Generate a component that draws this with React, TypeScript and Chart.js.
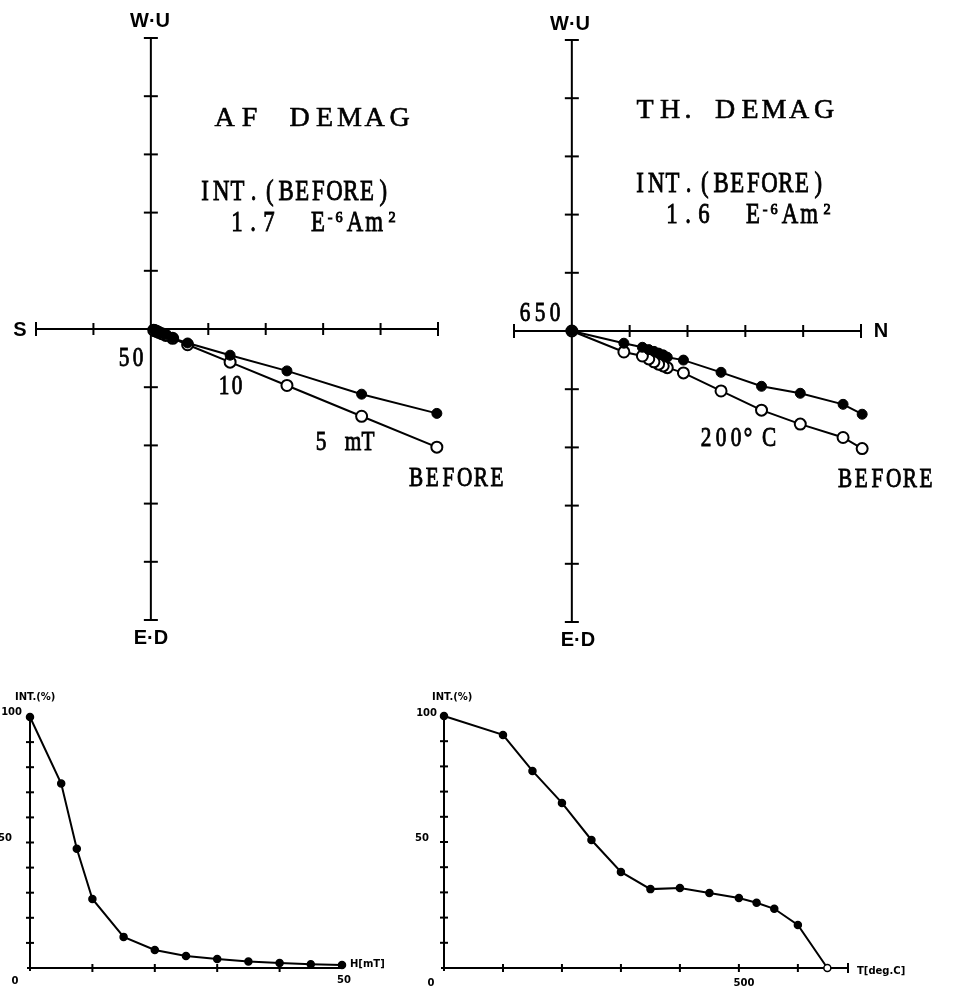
import React, { useEffect, useRef } from "react";
import { Chart, registerables } from "chart.js";

Chart.register(...registerables);

// ---------- AF demagnetization ----------
const afSteps = [0, 5, 7.5, 10, 15, 20, 25, 30, 35, 40, 45, 50]; // mT
const afNorth = [4.98, 3.67, 2.37, 1.38, 0.64, 0.38, 0.26, 0.19, 0.14, 0.1, 0.07, 0.05];
const afHorizUp = [-1.45, -1.12, -0.72, -0.45, -0.24, -0.16, -0.1, -0.07, -0.05, -0.04, -0.02, -0.01];
const afVertUp = [-2.03, -1.5, -0.97, -0.57, -0.27, -0.16, -0.11, -0.08, -0.06, -0.04, -0.03, -0.02];
const afIntensity = [100, 73.5, 47.5, 27.5, 12.4, 7.2, 4.8, 3.6, 2.6, 2.0, 1.5, 1.2];

// ---------- Thermal demagnetization ----------
const thSteps = [0, 100, 150, 200, 250, 300, 350, 400, 450, 500, 530, 560, 600, 650]; // deg C
const thNorth = [5.02, 4.69, 3.95, 3.28, 2.58, 1.93, 1.65, 1.58, 1.5, 1.42, 1.33, 1.22, 0.9, 0];
const thHorizUp = [-1.43, -1.26, -1.07, -0.95, -0.71, -0.5, -0.45, -0.41, -0.38, -0.35, -0.32, -0.28, -0.21, 0];
const thVertUp = [-2.02, -1.83, -1.6, -1.36, -1.03, -0.72, -0.63, -0.6, -0.57, -0.53, -0.48, -0.43, -0.36, 0];
const thIntensity = [100, 92.5, 78.2, 65.5, 50.8, 38.1, 31.3, 31.7, 29.8, 27.8, 25.9, 23.5, 17.1, 0];

// ---------- axes / ticks ----------
const zijTicks = [-4, -3, -2, -1, 1, 2, 3, 4];
const intYTicks = [10, 20, 30, 40, 50, 60, 70, 80, 90];
const afXTicks = [10, 20, 30, 40];
const thXTicks = [100, 200, 300, 400, 500, 600];
const thAxisMax = 685;

type Label = {
  text: string;
  kind: "title" | "int" | "serif" | "sans" | "small";
  x?: number;
  y: number;
  pitch?: number;
  centers?: number[];
  align?: CanvasTextAlign;
};

const SERIF = "'Liberation Serif', 'DejaVu Serif', serif";
const SANS = "'Liberation Sans', 'DejaVu Sans', sans-serif";
const SUP: Record<string, string> = { "⁻": "-", "⁶": "6", "²": "2" };

function drawLabels(ctx: CanvasRenderingContext2D, labels: Label[], ox: number, oy: number) {
  ctx.save();
  ctx.fillStyle = "#000";
  ctx.strokeStyle = "#000";
  for (const lb of labels) {
    const y = lb.y - oy;
    if (lb.kind === "sans" || lb.kind === "small") {
      ctx.font = lb.kind === "sans" ? `bold 20px ${SANS}` : `bold 10px 'DejaVu Sans', sans-serif`;
      ctx.textAlign = lb.align || "center";
      ctx.textBaseline = "middle";
      ctx.fillText(lb.text, (lb.x as number) - ox, y);
      continue;
    }
    const size = lb.kind === "title" ? 28 : lb.kind === "int" ? 30 : 28;
    const sx = lb.kind === "title" ? 1 : 0.76;
    for (let i = 0; i < lb.text.length; i++) {
      const ch = lb.text[i];
      if (ch === " ") continue;
      const cx = (lb.centers ? lb.centers[i] : (lb.x as number) + i * (lb.pitch as number)) - ox;
      let c = ch;
      let s = size;
      let yy = y + size * 0.33;
      let scx = sx;
      if (SUP[ch]) {
        c = SUP[ch];
        s = size * 0.5;
        yy = y + size * 0.04;
        scx = 0.95;
      }
      ctx.font = `${s}px ${SERIF}`;
      ctx.textAlign = "center";
      ctx.textBaseline = "alphabetic";
      ctx.lineWidth = lb.kind === "title" ? 0.6 : 0.9;
      ctx.save();
      ctx.translate(cx, yy);
      ctx.scale(scx, 1);
      ctx.fillText(c, 0, 0);
      ctx.strokeText(c, 0, 0);
      ctx.restore();
    }
  }
  ctx.restore();
}

function seg(ctx: CanvasRenderingContext2D, x1: number, y1: number, x2: number, y2: number) {
  ctx.beginPath();
  ctx.moveTo(x1, y1);
  ctx.lineTo(x2, y2);
  ctx.stroke();
}

const zijAxesPlugin = {
  id: "zijAxes",
  beforeDatasetsDraw(chart: any) {
    const { ctx } = chart;
    const x = chart.scales.x;
    const y = chart.scales.y;
    const x0 = x.getPixelForValue(0);
    const y0 = y.getPixelForValue(0);
    const xl = x.getPixelForValue(x.min);
    const xr = x.getPixelForValue(x.max);
    const yt = y.getPixelForValue(y.max);
    const yb = y.getPixelForValue(y.min);
    ctx.save();
    ctx.strokeStyle = "#000";
    ctx.lineWidth = 2;
    seg(ctx, xl, y0, xr, y0);
    seg(ctx, x0, yt, x0, yb);
    seg(ctx, xl, y0 - 7, xl, y0 + 7);
    seg(ctx, xr, y0 - 7, xr, y0 + 7);
    seg(ctx, x0 - 7, yt, x0 + 7, yt);
    seg(ctx, x0 - 7, yb, x0 + 7, yb);
    for (const v of zijTicks) {
      if (v > x.min && v < x.max) {
        const px = x.getPixelForValue(v);
        seg(ctx, px, y0 - 6, px, y0 + 6);
      }
      if (v > y.min && v < y.max) {
        const py = y.getPixelForValue(v);
        seg(ctx, x0 - 7, py, x0 + 7, py);
      }
    }
    ctx.restore();
  },
};

function makeIntAxesPlugin(xTicks: number[], endCap: boolean) {
  return {
    id: "intAxes",
    beforeDatasetsDraw(chart: any) {
      const { ctx } = chart;
      const x = chart.scales.x;
      const y = chart.scales.y;
      const x0 = x.getPixelForValue(0);
      const y0 = y.getPixelForValue(0);
      const xr = x.getPixelForValue(x.max);
      const yt = y.getPixelForValue(100);
      ctx.save();
      ctx.strokeStyle = "#000";
      ctx.lineWidth = 2;
      seg(ctx, x0 - 3, y0, xr, y0);
      seg(ctx, x0, y0 + 3, x0, yt);
      if (endCap) seg(ctx, xr, y0 - 5, xr, y0 + 5);
      for (const v of intYTicks) {
        const py = y.getPixelForValue(v);
        seg(ctx, x0 - 4, py, x0 + 4, py);
      }
      for (const v of xTicks) {
        const px = x.getPixelForValue(v);
        seg(ctx, px, y0 - 4, px, y0 + 4);
      }
      ctx.restore();
    },
  };
}

function makeLabelPlugin(labels: Label[], ox: number, oy: number) {
  return {
    id: "labels",
    afterDraw(chart: any) {
      drawLabels(chart.ctx, labels, ox, oy);
    },
  };
}

function pts(xs: number[], ys: number[]) {
  return xs.map((v, i) => ({ x: v, y: ys[i] }));
}

function baseOptions(pad: any, xr: [number, number], yr: [number, number]) {
  return {
    responsive: false,
    animation: false,
    devicePixelRatio: 1,
    events: [],
    layout: { padding: pad },
    scales: {
      x: { type: "linear", min: xr[0], max: xr[1], display: false },
      y: { type: "linear", min: yr[0], max: yr[1], display: false },
    },
    plugins: { legend: { display: false }, tooltip: { enabled: false } },
  };
}

function zijConfig(north: number[], hUp: number[], vUp: number[], pad: any, xr: [number, number], labels: Label[], ox: number, oy: number) {
  return {
    type: "scatter",
    data: {
      datasets: [
        {
          data: pts(north, hUp),
          showLine: true,
          borderColor: "#000",
          borderWidth: 2,
          pointRadius: 5,
          pointBackgroundColor: "#000",
          pointBorderColor: "#000",
          pointBorderWidth: 1,
          clip: false,
        },
        {
          data: pts(north, vUp),
          showLine: true,
          borderColor: "#000",
          borderWidth: 2,
          pointRadius: 5.5,
          pointBackgroundColor: "#fff",
          pointBorderColor: "#000",
          pointBorderWidth: 2,
          clip: false,
        },
      ],
    },
    options: baseOptions(pad, xr, [-5, 5]),
    plugins: [zijAxesPlugin, makeLabelPlugin(labels, ox, oy)],
  };
}

function intConfig(xs: number[], ys: number[], pad: any, xMax: number, xTicks: number[], endCap: boolean, openLast: boolean, labels: Label[], ox: number, oy: number) {
  const bg = ys.map((_, i) => (openLast && i === ys.length - 1 ? "#fff" : "#000"));
  return {
    type: "scatter",
    data: {
      datasets: [
        {
          data: pts(xs, ys),
          showLine: true,
          borderColor: "#000",
          borderWidth: 2,
          pointRadius: 3.5,
          pointBackgroundColor: bg,
          pointBorderColor: "#000",
          pointBorderWidth: 1.5,
          clip: false,
        },
      ],
    },
    options: baseOptions(pad, [0, xMax], [0, 100]),
    plugins: [makeIntAxesPlugin(xTicks, endCap), makeLabelPlugin(labels, ox, oy)],
  };
}

const afLabels: Label[] = [
  { text: "W·U", kind: "sans", x: 150, y: 21 },
  { text: "E·D", kind: "sans", x: 151, y: 638 },
  { text: "S", kind: "sans", x: 20, y: 330 },
  { text: "AF DEMAG", kind: "title", x: 224.5, pitch: 25, y: 117 },
  { text: "INT.(BEFORE)", kind: "int", x: 205, pitch: 16.2, y: 190 },
  { text: "1.7  E⁻⁶Am²", kind: "int", centers: [237, 253, 269, 0, 0, 318, 330, 339, 355, 374, 392], y: 221 },
  { text: "50", kind: "serif", centers: [124, 138], y: 357 },
  { text: "10", kind: "serif", centers: [224, 237], y: 385 },
  { text: "5 mT", kind: "serif", centers: [321, 0, 353, 368], y: 441 },
  { text: "BEFORE", kind: "serif", x: 416, pitch: 16.2, y: 477 },
];

const thLabels: Label[] = [
  { text: "W·U", kind: "sans", x: 570, y: 24 },
  { text: "E·D", kind: "sans", x: 578, y: 640 },
  { text: "N", kind: "sans", x: 881, y: 331 },
  { text: "TH. DEMAG", kind: "title", centers: [645, 670, 688, 0, 725, 750, 774, 799, 824], y: 109 },
  { text: "INT.(BEFORE)", kind: "int", x: 640, pitch: 16.2, y: 182 },
  { text: "1.6  E⁻⁶Am²", kind: "int", centers: [672, 688, 704, 0, 0, 753, 765, 774, 790, 809, 827], y: 213 },
  { text: "650", kind: "serif", x: 525, pitch: 15, y: 312 },
  { text: "200° C", kind: "serif", centers: [706, 721, 736, 748, 0, 769], y: 437 },
  { text: "BEFORE", kind: "serif", x: 845, pitch: 16.2, y: 478 },
];

const afIntLabels: Label[] = [
  { text: "INT.(%)", kind: "small", x: 15, y: 697, align: "left" },
  { text: "100", kind: "small", x: 22, y: 712, align: "right" },
  { text: "50", kind: "small", x: 12, y: 838, align: "right" },
  { text: "0", kind: "small", x: 15, y: 981 },
  { text: "50", kind: "small", x: 344, y: 980 },
  { text: "H[mT]", kind: "small", x: 350, y: 964, align: "left" },
];

const thIntLabels: Label[] = [
  { text: "INT.(%)", kind: "small", x: 432, y: 697, align: "left" },
  { text: "100", kind: "small", x: 437, y: 713, align: "right" },
  { text: "50", kind: "small", x: 429, y: 838, align: "right" },
  { text: "0", kind: "small", x: 431, y: 983 },
  { text: "500", kind: "small", x: 744, y: 983 },
  { text: "T[deg.C]", kind: "small", x: 857, y: 971, align: "left" },
];

function ChartCanvas(props: { left: number; top: number; width: number; height: number; build: () => any }) {
  const ref = useRef<HTMLCanvasElement>(null);
  useEffect(() => {
    const chart = new Chart(ref.current as HTMLCanvasElement, props.build());
    return () => chart.destroy();
  }, []);
  return (
    <canvas
      ref={ref}
      width={props.width}
      height={props.height}
      style={{ position: "absolute", left: props.left, top: props.top, width: props.width, height: props.height }}
    />
  );
}

export default function App() {
  return (
    <div style={{ position: "absolute", left: 0, top: 0, width: 953, height: 993, background: "#fff", overflow: "hidden" }}>
      <ChartCanvas
        left={0}
        top={0}
        width={505}
        height={660}
        build={() => zijConfig(afNorth, afHorizUp, afVertUp, { left: 36, right: 67, top: 38, bottom: 40 }, [-2, 5], afLabels, 0, 0)}
      />
      <ChartCanvas
        left={505}
        top={0}
        width={448}
        height={660}
        build={() => zijConfig(thNorth, thHorizUp, thVertUp, { left: 9, right: 92, top: 40, bottom: 38 }, [-1, 5], thLabels, 505, 0)}
      />
      <ChartCanvas
        left={0}
        top={660}
        width={400}
        height={333}
        build={() => intConfig(afSteps, afIntensity, { left: 30, right: 58, top: 57, bottom: 25 }, 50, afXTicks, false, false, afIntLabels, 0, 660)}
      />
      <ChartCanvas
        left={400}
        top={660}
        width={553}
        height={333}
        build={() => intConfig(thSteps, thIntensity, { left: 44, right: 105, top: 56, bottom: 25 }, thAxisMax, thXTicks, true, true, thIntLabels, 400, 660)}
      />
    </div>
  );
}
